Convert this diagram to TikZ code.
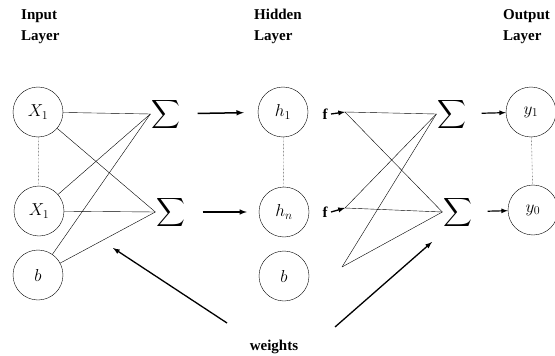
\documentclass[tikz,border=0pt]{standalone}
\usepackage{amsmath}
\usepackage{amssymb}
\usepackage{fontspec}
\setmainfont{Liberation Serif}
\usepackage{tikz}

\tikzset{
	neuron/.style={draw, circle, thin, minimum size=50pt, inner sep=0pt, font=\fontsize{17}{17}\selectfont},
	summ/.style={inner sep=1pt, font=\fontsize{20}{20}\selectfont},
	layerlabel/.style={align=left, anchor=north west, inner sep=0pt, font=\fontsize{15}{21}\selectfont\bfseries},
	wire/.style={draw, thin},
	flow/.style={draw, line width=1.5pt, -latex},
	vdots/.style={draw, thin, densely dotted}
}

\begin{document}
\begin{tikzpicture}[x=1pt, y=-1pt]
	\useasboundingbox (0,0) rectangle (555,356);
	% layer titles
	\node[layerlabel] (inlab) at (21,9) {Input\\Layer};
	\node[layerlabel] (hidlab) at (254,9) {Hidden\\Layer};
	\node[layerlabel] (outlab) at (503,9) {Output\\Layer};
	% input layer
	\node[neuron] (x1) at (38,112) {$X_1$};
	\node[neuron] (x2) at (39,211) {$X_1$};
	\node[neuron] (xb) at (38,275) {$b$};
	\draw[vdots] (x1) -- (x2);
	% first sums
	\node[summ] (s1) at (166,114) {$\displaystyle\sum$};
	\node[summ] (s2) at (171,212) {$\displaystyle\sum$};
	\foreach \a in {x1,x2,xb}
		\foreach \b in {s1,s2}
			\draw[wire] (\a) -- (\b.west);
	% hidden layer
	\node[neuron] (h1) at (283,112) {$h_1$};
	\node[neuron] (hn) at (284,212) {$h_n$};
	\node[neuron] (hb) at (284,276) {$b$};
	\draw[vdots] (h1) -- (hn);
	\draw[flow, shorten <=16pt, shorten >=14pt] (s1) -- (h1);
	\draw[flow, shorten <=16pt, shorten >=12pt] (s2) -- (hn);
	\node[font=\fontsize{15}{15}\selectfont\bfseries] (f1) at (325,114) {f};
	\node[font=\fontsize{15}{15}\selectfont\bfseries] (fn) at (325,212) {f};
	\coordinate (o1) at (345,112);
	\coordinate (on) at (345,208);
	\coordinate (ob) at (342,267);
	\draw[line width=1.3pt, -latex] (f1.east) -- (o1);
	\draw[line width=1.3pt, -latex] (fn.east) -- (on);
	% second sums
	\node[summ] (s3) at (452,114) {$\displaystyle\sum$};
	\node[summ] (s4) at (458,212) {$\displaystyle\sum$};
	\foreach \a in {o1,on,ob}
		\foreach \b in {s3,s4}
			\draw[wire] (\a) -- (\b.west);
	% output layer
	\node[neuron] (y1) at (531,112) {$y_1$};
	\node[neuron] (y0) at (533,210) {$y_0$};
	\draw[vdots] (y1) -- (y0);
	\draw[line width=1.2pt, -latex, shorten <=14pt] (s3) -- (y1);
	\draw[line width=1.2pt, -latex, shorten <=14pt] (s4) -- (y0);
	% weights
	\node[font=\fontsize{15}{15}\selectfont\bfseries] (w) at (274,347) {weights};
	\coordinate (wl0) at (227,323);
	\coordinate (wl1) at (113,248);
	\coordinate (wr0) at (335,327);
	\coordinate (wr1) at (432,242);
	\draw[flow, line width=1.3pt] (wl0) -- (wl1);
	\draw[flow, line width=1.3pt] (wr0) -- (wr1);
\end{tikzpicture}
\end{document}
